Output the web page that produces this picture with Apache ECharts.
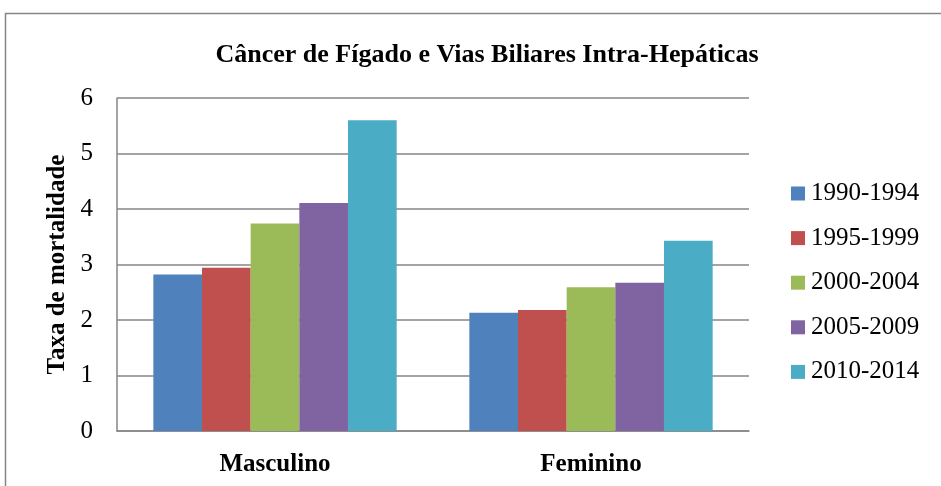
<!DOCTYPE html>
<html>
<head>
<meta charset="utf-8">
<script src="https://cdn.jsdelivr.net/npm/echarts@6/dist/echarts.min.js"></script>
<style>
  html, body { margin: 0; padding: 0; background: #fff; }
  #chart { width: 941px; height: 486px; }
</style>
</head>
<body>
<div id="chart"></div>
<script>
const categories = ['Masculino', 'Feminino']
const periods = ['1990-1994', '1995-1999', '2000-2004', '2005-2009', '2010-2014']
const values_1990 = [2.82, 2.13]
const values_1995 = [2.94, 2.18]
const values_2000 = [3.74, 2.59]
const values_2005 = [4.11, 2.67]
const values_2010 = [5.60, 3.43]
const colors = ['#4F81BD', '#C0504D', '#9BBB59', '#8064A2', '#4BACC6']

const seriesValues = [values_1990, values_1995, values_2000, values_2005, values_2010]
const serif = '"Liberation Serif", "DejaVu Serif", serif'

const chart = echarts.init(document.getElementById('chart'))

chart.setOption({
    animation: false,
    color: colors,
    title: {
        text: 'Câncer de Fígado e Vias Biliares Intra-Hepáticas',
        left: 482,
        textAlign: 'center',
        top: 37,
        textStyle: { fontFamily: serif, fontWeight: 'bold', fontSize: 26, color: '#000' }
    },
    graphic: [{
        type: 'rect',
        shape: { x: 5.5, y: 13.5, width: 960, height: 500 },
        style: { fill: 'none', stroke: '#868686', lineWidth: 1.5 },
        silent: true
    }],
    legend: {
        orient: 'vertical',
        left: 786,
        top: 176,
        itemWidth: 14,
        itemHeight: 14,
        itemGap: 19.6,
        icon: 'rect',
        textStyle: { fontFamily: serif, fontSize: 25, lineHeight: 25, color: '#000', padding: [0, 0, 0, 1] },
        data: periods
    },
    grid: { left: 117, right: 192, top: 98, bottom: 55 },
    xAxis: {
        type: 'category',
        data: categories,
        axisLine: { lineStyle: { color: '#868686', width: 1.5 } },
        axisTick: { show: false },
        axisLabel: { fontFamily: serif, fontWeight: 'bold', fontSize: 25, color: '#000', margin: 21 }
    },
    yAxis: {
        type: 'value',
        min: 0,
        max: 6,
        interval: 1,
        name: 'Taxa de mortalidade',
        nameLocation: 'middle',
        nameGap: 38,
        nameTextStyle: { fontFamily: serif, fontWeight: 'bold', fontSize: 25, color: '#000' },
        axisLine: { show: true, lineStyle: { color: '#868686', width: 1.5 } },
        axisTick: { show: false },
        axisLabel: { fontFamily: serif, fontSize: 25, color: '#000', margin: 24 },
        splitLine: { lineStyle: { color: '#868686', width: 1.5 } }
    },
    series: periods.map((p, i) => ({
        name: p,
        type: 'bar',
        data: seriesValues[i],
        barGap: '0%',
        barCategoryGap: '23%',
        itemStyle: { color: colors[i] }
    }))
})
</script>
</body>
</html>
